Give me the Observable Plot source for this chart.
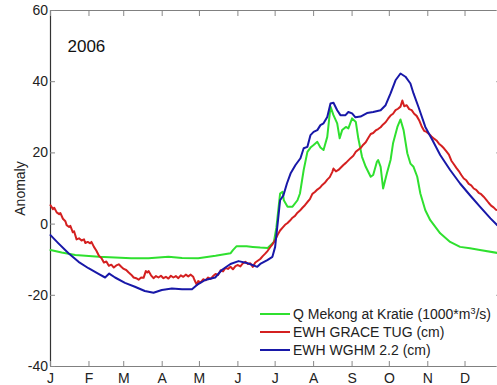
<!DOCTYPE html>
<html>
<head>
<meta charset="utf-8">
<script src="https://cdn.jsdelivr.net/npm/d3@7"></script>
<script src="https://cdn.jsdelivr.net/npm/@observablehq/plot@0.6"></script>
<style>
  html, body { margin: 0; padding: 0; background: #fff; overflow: hidden; }
  #wrap { position: relative; width: 497px; height: 385px; overflow: hidden; font-family: "Liberation Sans", Arial, sans-serif; }
  #legend { position: absolute; left: 260px; top: 305px; font-size: 14px; color: #222; }
  .row { display: flex; align-items: center; height: 18px; white-space: nowrap; }
  .sw { width: 30px; height: 2px; margin-right: 3px; }
  sup { font-size: 9px; vertical-align: 5px; line-height: 0; }
</style>
</head>
<body>
<div id="wrap"></div>
<script>
// ---- data (day of year 2006, anomaly) ----
const yearLabel = "2006";
const yTicks = [-40, -20, 0, 20, 40, 60];
const monthStartDays = [0, 31, 59, 90, 120, 151, 181, 212, 243, 273, 304, 334];
const monthLabels = ["J", "F", "M", "A", "M", "J", "J", "A", "S", "O", "N", "D"];

const seriesNames = ["Q Mekong at Kratie (1000*m³/s)", "EWH GRACE TUG (cm)", "EWH WGHM 2.2 (cm)"];
const seriesColors = ["#2fe02f", "#d42020", "#1818a8"];

const qDay = [0, 9, 20, 39, 65, 79, 95, 106, 119, 133, 145, 147, 150, 158, 163, 169, 175, 180, 182, 185, 187, 188, 191, 195, 199, 201, 204, 207, 209.5, 212, 215, 217.5, 220, 223, 225.6, 228, 231, 233, 235, 238, 240, 243, 246, 248, 251, 254, 258, 260, 263, 264, 266, 268, 271, 274, 276, 279.5, 282, 284.5, 287.5, 290, 292.5, 295.5, 298, 302, 306, 314, 322, 330, 338, 346, 360, 365];
const qVal = [-7.3, -8, -8.7, -9.2, -9.6, -9.6, -9.2, -9.5, -9.6, -8.9, -8.2, -7.3, -6.2, -6.2, -6.4, -6.6, -6.7, -5, -1, 8.6, 9.1, 6.7, 4.9, 4.9, 6.7, 8.6, 15.2, 20.3, 21.5, 22.2, 23.1, 21.5, 20.8, 24.5, 33, 30.6, 28.3, 24.1, 26.4, 27.3, 26.9, 29.7, 28.7, 24.1, 18.9, 16.1, 13.3, 13.8, 17.5, 18, 16.1, 10, 14.2, 18, 22.7, 27.3, 29.4, 26.4, 19.9, 17, 16.1, 13.3, 8.6, 3.9, 1.1, -2.6, -5, -6.4, -6.8, -7.3, -8.1, -8.2];

const graceDay = [0, 2, 3, 5, 7, 8, 10, 12, 13, 15, 16, 18, 19, 21, 23, 25, 27, 28, 30, 32, 33, 35, 37, 39, 41, 43, 45, 47, 49, 51, 53, 55, 57, 59, 61, 63, 65, 67, 69, 71, 73, 75, 76.8, 78, 79, 81, 83, 85, 87, 89, 91, 93, 95, 97, 99, 101, 103, 105, 107, 109, 111, 113, 115, 116, 118, 119, 121, 123, 125, 127, 129, 131, 133, 135, 137, 139, 141, 143, 145, 147, 149, 151, 153, 155, 157, 159, 161, 163, 165, 167, 169, 171, 173, 175, 177, 179, 181, 183, 185, 187, 189, 191, 193, 195, 197, 199, 201, 203, 205, 207, 209, 211, 213, 215, 217, 219, 221, 223, 225, 227, 228, 230, 232, 234, 236, 238, 240, 242, 244, 246, 248, 250, 252, 254, 256, 258, 260, 262, 264, 266, 268, 270, 272, 274, 276, 278, 280, 282, 283.5, 285, 287, 289, 291, 293, 295, 297, 299, 301, 303, 305, 307, 309, 311, 313, 315, 317, 319, 321, 323, 325, 327, 329, 331, 333, 335, 337, 339, 341, 343, 345, 347, 349, 351, 353, 355, 357, 359, 361, 363, 365];
const graceVal = [5.3, 4.2, 4.6, 3.3, 2.8, 3.1, 1.5, 0.8, -0.3, -0.8, -0.5, -2.3, -2.0, -4.3, -4.0, -4.6, -4.3, -5.3, -5.0, -5.4, -5.0, -6.4, -7.5, -8.9, -9.5, -10.8, -10.5, -11.7, -11.4, -12.2, -11.6, -11.3, -12.0, -12.6, -12.9, -13.6, -14.2, -15.0, -15.2, -15.6, -15.0, -15.1, -13.2, -13.6, -13.2, -14.4, -15.2, -14.6, -15.0, -14.5, -15.2, -14.8, -15.3, -14.5, -15.0, -14.6, -15.2, -14.4, -14.8, -14.2, -14.7, -14.2, -14.8, -15.7, -17.1, -16.0, -16.4, -15.5, -15.8, -15.0, -15.4, -14.6, -14.0, -14.3, -13.0, -13.3, -12.3, -12.6, -12.0, -12.7, -11.8, -11.5, -11.9, -11.0, -10.6, -11.2, -11.0, -12.0, -10.8, -10.3, -9.8, -9.0, -8.3, -7.5, -6.5, -5.6, -4.5, -3.0, -1.8, -1.0, -0.2, 0.3, 1.0, 1.8, 2.3, 3.2, 3.8, 4.6, 5.3, 6.2, 7.0, 8.5, 9.0, 9.7, 10.2, 11.0, 11.6, 12.5, 13.2, 14.6, 15.6, 14.8, 15.2, 15.9, 16.6, 17.2, 17.9, 18.6, 19.2, 20.3, 20.9, 21.4, 22.3, 23.0, 24.2, 25.3, 25.6, 26.3, 26.7, 27.2, 28.0, 28.6, 29.6, 30.5, 31.0, 32.0, 32.4, 33.0, 34.7, 33.1, 33.4, 32.3, 32.0, 31.0, 30.4, 29.2, 27.5, 26.2, 25.9, 25.3, 24.6, 24.0, 23.5, 22.6, 22.0, 21.3, 20.4, 19.5, 17.8, 16.8, 15.8, 14.9, 13.8, 12.8, 12.3, 11.3, 10.9, 10.0, 9.6, 8.8, 8.4, 7.7, 6.9, 6.0, 5.2, 4.7, 4.0, 3.9, 3.3, 3.0];

const wghmDay = [0, 6.4, 14.5, 22.6, 30.6, 38.7, 44, 47.3, 52, 60, 68, 76, 83, 89.7, 97.8, 106, 114, 118, 124.7, 132.7, 138, 145, 151.5, 158, 162.7, 166.6, 169, 174.7, 178.8, 181, 183.6, 185, 187.7, 190.5, 193.4, 197.4, 201.4, 204, 207, 209.5, 212, 215, 217.5, 220, 223, 225.6, 228, 231, 233.6, 237.7, 240, 243, 245.7, 249.8, 255, 260, 266, 270, 274, 278, 282, 286, 290, 292.5, 296.5, 302, 307.7, 314, 322, 330, 338, 346, 354.5, 360, 365];
const wghmVal = [-3.1, -5.4, -8.2, -10.6, -12.4, -14, -15, -13.9, -15, -16.5, -17.6, -18.8, -19.3, -18.5, -18.1, -18.3, -18.3, -17.1, -15.7, -15, -12.9, -11.2, -10.4, -10.9, -11.5, -12, -11.2, -10.1, -9.2, -6.4, 2, 6.7, 8.1, 11.4, 14.2, 16.6, 18.5, 21.3, 21.7, 25, 25.9, 26.4, 27.8, 28.3, 30.1, 33.9, 34.1, 32, 30.6, 30.6, 31.5, 31.1, 30, 30.2, 31.2, 31.5, 32, 33.4, 36.7, 40.4, 42.3, 41.4, 39.5, 36.7, 32.9, 27.3, 23.6, 19.4, 15.2, 11.4, 8.1, 4.9, 1.6, -0.3, -1.5];

// ---- build tables ----
const toRows = (days, vals, name) => days.map((d, i) => ({day: d, value: vals[i], series: name}));
const rows = [
  ...toRows(qDay, qVal, seriesNames[0]),
  ...toRows(graceDay, graceVal, seriesNames[1]),
  ...toRows(wghmDay, wghmVal, seriesNames[2])
];
const monthLabelOf = new Map(monthStartDays.map((d, i) => [d, monthLabels[i]]));
const none = () => "";

const chart = Plot.plot({
  width: 497,
  height: 385,
  marginLeft: 50,
  marginTop: 10,
  marginBottom: 19,
  marginRight: -6,
  style: {fontFamily: "'Liberation Sans', Arial, sans-serif", fontSize: "14px", color: "#222", overflow: "hidden", background: "#fff"},
  x: {domain: [0, 365], range: [50, 503]},
  y: {domain: [-40, 60], range: [366, 10]},
  color: {domain: seriesNames, range: seriesColors},
  marks: [
    Plot.ruleY([yTicks[0], yTicks[yTicks.length - 1]], {stroke: "#808080", strokeWidth: 1.2}),
    Plot.ruleX([0], {stroke: "#333", strokeWidth: 1.2}),
    // inward tick marks
    Plot.axisX({anchor: "bottom", ticks: monthStartDays, tickSize: 5, dy: -5, stroke: "#888", tickFormat: none, label: null}),
    Plot.axisX({anchor: "top", ticks: monthStartDays, tickSize: 5, dy: 5, stroke: "#888", tickFormat: none, label: null}),
    Plot.axisY({anchor: "left", ticks: yTicks, tickSize: 5, dx: 5, stroke: "#888", tickFormat: none, label: null}),
    Plot.axisY({anchor: "right", ticks: yTicks, tickSize: 8, dx: -8, stroke: "#aaa", tickFormat: none, label: null}),
    // tick labels
    Plot.axisX({anchor: "bottom", ticks: monthStartDays, tickSize: 0, tickPadding: 7,
      tickFormat: d => monthLabelOf.get(d), label: null, fill: "#222"}),
    Plot.axisY({anchor: "left", ticks: yTicks, tickSize: 0, tickPadding: 2.5,
      tickFormat: d => String(d), label: "Anomaly", labelAnchor: "center", labelOffset: 35, labelArrow: "none", fill: "#222"}),
    Plot.line(rows, {x: "day", y: "value", z: "series", stroke: "series", strokeWidth: 2}),
    Plot.text([yearLabel], {frameAnchor: "top-left", dx: 17, dy: 36, text: d => d, fontSize: 17, textAnchor: "start", lineAnchor: "middle", fill: "#111"})
  ]
});
const wrap = document.getElementById("wrap");
wrap.appendChild(chart);

// legend (HTML, inside the axes, lower right)
const legend = document.createElement("div");
legend.id = "legend";
const legendHtml = [
  "Q Mekong at Kratie (1000*m<sup>3</sup>/s)",
  "EWH GRACE TUG (cm)",
  "EWH WGHM 2.2 (cm)"
];
seriesNames.forEach((name, i) => {
  const row = document.createElement("div");
  row.className = "row";
  const sw = document.createElement("span");
  sw.className = "sw";
  sw.style.background = seriesColors[i];
  const tx = document.createElement("span");
  tx.innerHTML = legendHtml[i];
  row.appendChild(sw);
  row.appendChild(tx);
  legend.appendChild(row);
});
wrap.appendChild(legend);
</script>
</body>
</html>
